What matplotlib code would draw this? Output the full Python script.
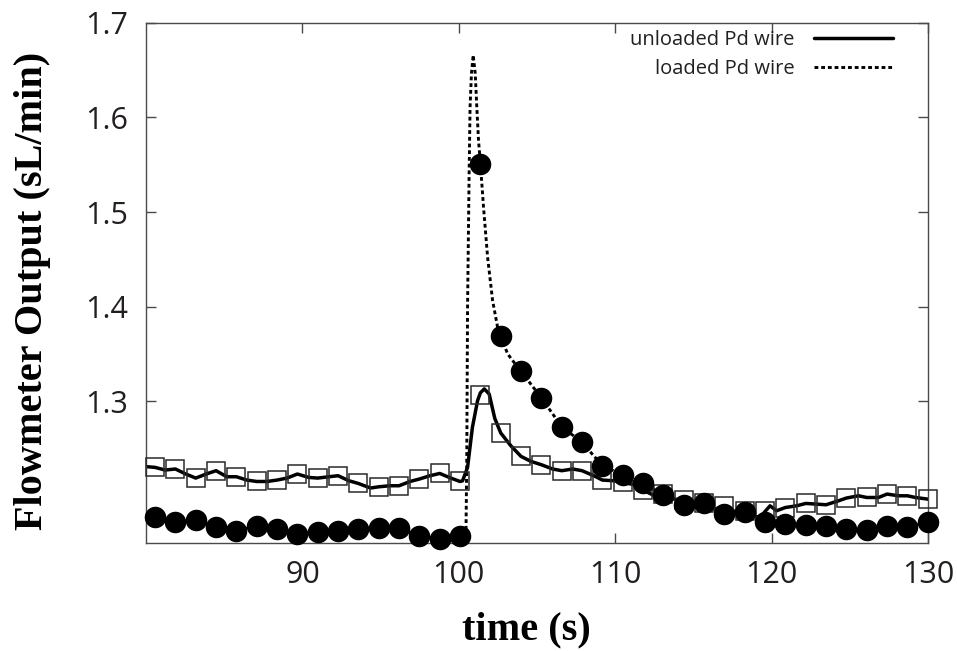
import matplotlib
matplotlib.use("Agg")
import matplotlib.pyplot as plt

# ---------------- data ----------------
# sample times of the plotted markers (s)
marker_time = [80.58, 81.88, 83.18, 84.48, 85.78, 87.08, 88.38, 89.68, 90.98, 92.28,
               93.58, 94.88, 96.18, 97.48, 98.78, 100.08, 101.38, 102.68, 103.98, 105.28,
               106.58, 107.88, 109.18, 110.48, 111.78, 113.08, 114.38, 115.68, 116.98, 118.28,
               119.58, 120.88, 122.18, 123.48, 124.78, 126.08, 127.38, 128.68, 129.98]

unloaded_marks = [1.2302, 1.2285, 1.2189, 1.2267, 1.2203, 1.2153, 1.2168, 1.2232, 1.2189, 1.2214,
                  1.2132, 1.2097, 1.2108, 1.2179, 1.2238, 1.2153, 1.3070, 1.2666, 1.2418, 1.2330,
                  1.2267, 1.2267, 1.2168, 1.2143, 1.2062, 1.2020, 1.1953, 1.1931, 1.1896, 1.1836,
                  1.1836, 1.1878, 1.1921, 1.1907, 1.1978, 1.1984, 1.2020, 1.2002, 1.1967]

loaded_marks = [1.1780, 1.1720, 1.1745, 1.1667, 1.1632, 1.1685, 1.1650, 1.1597, 1.1624, 1.1632,
                1.1650, 1.1660, 1.1660, 1.1579, 1.1550, 1.1580, 1.5512, 1.3685, 1.3317, 1.3036,
                1.2732, 1.2566, 1.2320, 1.2224, 1.2132, 1.2013, 1.1900, 1.1931, 1.1808, 1.1833,
                1.1720, 1.1709, 1.1695, 1.1685, 1.1650, 1.1639, 1.1685, 1.1674, 1.1720]

# continuous traces
unloaded_time = [80.0, 80.58, 81.22, 81.88, 82.50, 83.18, 83.85, 84.48, 85.17, 85.78,
                 86.45, 87.08, 87.74, 88.38, 89.02, 89.68, 90.40, 90.98, 91.69, 92.28,
                 92.97, 93.58, 94.36, 94.88, 95.60, 96.18, 96.88, 97.48, 98.16, 98.78,
                 99.49, 100.08, 100.24, 100.56, 100.87, 101.20, 101.38, 101.63, 101.94, 102.30,
                 102.68, 103.33, 103.98, 104.62, 105.28, 106.00, 106.58, 107.29, 107.88, 108.63,
                 109.18, 109.91, 110.48, 111.24, 111.78, 112.52, 113.08, 113.80, 114.38, 115.19,
                 115.68, 116.37, 116.98, 117.76, 118.28, 119.04, 119.30, 119.58, 119.90, 120.32,
                 120.88, 121.60, 122.18, 122.88, 123.48, 124.28, 124.78, 125.56, 126.08, 126.84,
                 127.38, 128.12, 128.68, 129.20, 129.98, 130.0]
unloaded_flow = [1.2310, 1.2302, 1.2274, 1.2285, 1.2235, 1.2189, 1.2232, 1.2267, 1.2203, 1.2203,
                 1.2168, 1.2153, 1.2153, 1.2168, 1.2189, 1.2232, 1.2196, 1.2189, 1.2203, 1.2214,
                 1.2161, 1.2132, 1.2084, 1.2097, 1.2108, 1.2108, 1.2153, 1.2179, 1.2214, 1.2238,
                 1.2189, 1.2153, 1.2160, 1.2302, 1.2725, 1.3007, 1.3090, 1.3131, 1.3078, 1.2820,
                 1.2666, 1.2530, 1.2418, 1.2365, 1.2330, 1.2285, 1.2267, 1.2285, 1.2267, 1.2214,
                 1.2168, 1.2161, 1.2143, 1.2119, 1.2062, 1.2002, 1.2020, 1.1967, 1.1953, 1.1914,
                 1.1931, 1.1861, 1.1896, 1.1825, 1.1836, 1.1780, 1.1780, 1.1836, 1.1896, 1.1844,
                 1.1878, 1.1896, 1.1921, 1.1914, 1.1907, 1.1949, 1.1978, 1.2002, 1.1984, 1.1984,
                 1.2020, 1.2002, 1.2002, 1.1984, 1.1967, 1.1965]

loaded_time = [80.0, 80.58, 81.88, 83.18, 84.48, 85.78, 87.08, 88.38, 89.68, 90.98,
               92.28, 93.58, 94.88, 96.18, 97.48, 98.78, 100.08, 100.45, 100.51, 100.56,
               100.66, 100.72, 100.81, 100.92, 101.05, 101.15, 101.26, 101.38, 101.58, 101.84,
               102.16, 102.48, 102.68, 103.12, 103.44, 103.98, 105.28, 106.58, 107.88, 109.18,
               110.48, 111.78, 113.08, 114.38, 115.68, 116.98, 118.28, 119.58, 120.88, 122.18,
               123.48, 124.78, 126.08, 127.38, 128.68, 129.98, 130.0]
loaded_flow = [1.1810, 1.1780, 1.1720, 1.1745, 1.1667, 1.1632, 1.1685, 1.1650, 1.1597, 1.1624,
               1.1632, 1.1650, 1.1660, 1.1660, 1.1579, 1.1550, 1.1580, 1.1470, 1.2410, 1.3995,
               1.5406, 1.6111, 1.6465, 1.6658, 1.6465, 1.6111, 1.5759, 1.5512, 1.5053, 1.4524,
               1.4066, 1.3783, 1.3685, 1.3502, 1.3431, 1.3317, 1.3036, 1.2732, 1.2566, 1.2320,
               1.2224, 1.2132, 1.2013, 1.1900, 1.1931, 1.1808, 1.1833, 1.1720, 1.1709, 1.1695,
               1.1685, 1.1650, 1.1639, 1.1685, 1.1674, 1.1720, 1.1722]

series_labels = ["unloaded Pd wire", "loaded Pd wire"]
x_ticks = [90, 100, 110, 120, 130]
y_ticks = [1.3, 1.4, 1.5, 1.6, 1.7]
x_label = "time (s)"
y_label = "Flowmeter Output (sL/min)"

# ---------------- figure ----------------
W, H = 957, 651
fig = plt.figure(figsize=(W / 100, H / 100), dpi=100)
ax = fig.add_axes([146 / W, (H - 543.3) / H, (928 - 146) / W, (543.3 - 22.7) / H])

text_col = "#231f20"
frame_col = "#4a4a4a"

l1, = ax.plot(unloaded_time, unloaded_flow, color="black", lw=2.5,
              solid_joinstyle="round", solid_capstyle="round", zorder=2,
              label=series_labels[0])
ax.plot(marker_time, unloaded_marks, ls="none", marker="s", ms=12.5,
        mfc="none", mec="#2a2a2a", mew=1.1, clip_on=False, zorder=3)

l2, = ax.plot(loaded_time, loaded_flow, color="black", lw=2.1,
              ls=(0, (1.3, 1.0)), zorder=2, label=series_labels[1])
ax.plot(marker_time, loaded_marks, ls="none", marker="o", ms=14.5,
        color="black", clip_on=False, zorder=4)

ax.set_xlim(80, 130)
ax.set_ylim(1.15, 1.7)
ax.set_xticks(x_ticks)
ax.set_xticklabels([str(v) for v in x_ticks])
ax.set_yticks(y_ticks)
ax.set_yticklabels([f"{v:.1f}" for v in y_ticks])

ax.tick_params(axis="both", which="major", direction="in", length=7.5, width=1.0,
               color=frame_col, top=True, right=True, labelsize=22,
               labelcolor=text_col)
ax.tick_params(axis="x", pad=12)
ax.tick_params(axis="y", pad=13)
for lab in ax.get_xticklabels() + ax.get_yticklabels():
    lab.set_family("Open Sans")

for s in ax.spines.values():
    s.set_color(frame_col)
    s.set_linewidth(1.0)

ax.set_xlabel(x_label, family="Liberation Serif", fontweight="bold",
              fontsize=29, color="black")
ax.set_ylabel(y_label, family="Liberation Serif", fontweight="bold",
              fontsize=29, color="black")
ax.xaxis.set_label_coords(0.4866, -0.13)
ax.yaxis.set_label_coords(-0.122, 0.484)

leg = ax.legend(handles=[l1, l2], loc="upper right",
                bbox_to_anchor=(893 / W, 1 - 30 / H), bbox_transform=fig.transFigure,
                frameon=False, markerfirst=False, borderpad=0, borderaxespad=0,
                handlelength=3.9, handletextpad=1.0, labelspacing=0.45,
                prop={"family": "Open Sans", "size": 14.5})
for t in leg.get_texts():
    t.set_color(text_col)

fig.savefig("out.png", dpi=100)
